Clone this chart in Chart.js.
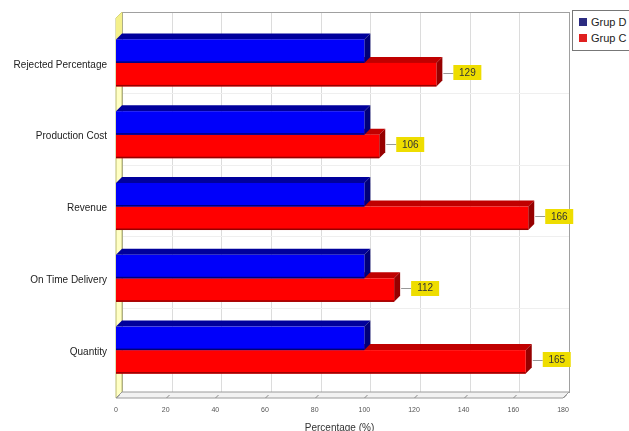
<!DOCTYPE html>
<html>
<head>
<meta charset="utf-8">
<script src="https://cdn.jsdelivr.net/npm/chart.js@4.4.1/dist/chart.umd.min.js"></script>
<style>
  html, body { margin: 0; padding: 0; background: #fff; }
  #wrap { position: relative; width: 629px; height: 431px; overflow: hidden; }
  #legend {
    position: absolute; left: 572px; top: 10px; width: 70px; height: 39px;
    border: 1px solid #777; background: #fff;
    font: 11px "Liberation Sans", Arial, sans-serif; color: #222;
  }
  #legend div { position: absolute; left: 6px; white-space: nowrap; }
  #legend span { display: inline-block; width: 8px; height: 8px; margin-right: 4px; }
</style>
</head>
<body>
<div id="wrap">
  <canvas id="chart" width="629" height="431"></canvas>
  <div id="legend"></div>
</div>
<script>
const categories = ["Rejected Percentage", "Production Cost", "Revenue", "On Time Delivery", "Quantity"];
const grupD = [100, 100, 100, 100, 100];
const grupC = [129, 106, 166, 112, 165];
const xTickValues = [0, 20, 40, 60, 80, 100, 120, 140, 160, 180];

const DEPTH = 6;
const seriesStyle = [
  { name: "Grup D", legend: "#2b2b80", front: "#0000fa", top: "#00009c", side: "#000078" },
  { name: "Grup C", legend: "#e02020", front: "#ff0000", top: "#c00000", side: "#960000" }
];

// legend
document.getElementById("legend").innerHTML = seriesStyle.map((s, i) =>
  `<div style="top:${5 + i * 16}px"><span style="background:${s.legend}"></span>${s.name}</div>`
).join("");

function poly(ctx, pts, fill, stroke) {
  ctx.beginPath();
  ctx.moveTo(pts[0][0], pts[0][1]);
  for (let i = 1; i < pts.length; i++) ctx.lineTo(pts[i][0], pts[i][1]);
  ctx.closePath();
  if (fill) { ctx.fillStyle = fill; ctx.fill(); }
  if (stroke) { ctx.strokeStyle = stroke; ctx.lineWidth = 1; ctx.stroke(); }
}

// fake 3d frame + bars
const bars3d = {
  id: "bars3d",
  beforeDatasetsDraw(chart) {
    const ctx = chart.ctx, xs = chart.scales.x, area = chart.chartArea, d = DEPTH;
    const L = xs.getPixelForValue(0), R = xs.getPixelForValue(180);
    const T = area.top - 15, B = area.bottom + 12;
    ctx.save();
    // back wall
    ctx.fillStyle = "#fff";
    ctx.fillRect(L + d, T, R - L, B - d - T);
    // grid on back wall
    ctx.strokeStyle = "#dcdcdc";
    ctx.lineWidth = 1;
    xTickValues.forEach(v => {
      const px = Math.round(xs.getPixelForValue(v) + d) + 0.5;
      ctx.beginPath(); ctx.moveTo(px, T); ctx.lineTo(px, B - d); ctx.stroke();
    });
    ctx.strokeStyle = "#efefef";
    const ys = chart.scales.y;
    for (let i = 1; i < categories.length; i++) {
      const py = Math.round((ys.getPixelForValue(i - 1) + ys.getPixelForValue(i)) / 2 - d) + 0.5;
      ctx.beginPath(); ctx.moveTo(L + d, py); ctx.lineTo(R + d, py); ctx.stroke();
    }
    ctx.strokeStyle = "#a0a0a0";
    ctx.strokeRect(Math.round(L + d) + 0.5, T + 0.5, R - L, B - d - T);
    // left wall
    poly(ctx, [[L, T + d], [L + d, T], [L + d, B - d], [L, B]], "#ffffc4", "#bcbc70");
    poly(ctx, [[L, T + d], [L + d, T], [L + d, T + 30], [L, T + 36]], "#f4f08a", null);
    // floor
    poly(ctx, [[L, B], [L + d, B - d], [R + d, B - d], [R, B]], "#f2f2f2", "#9a9a9a");
    ctx.strokeStyle = "#8a8a8a";
    xTickValues.forEach(v => {
      const px = Math.round(xs.getPixelForValue(v)) + 0.5;
      ctx.beginPath(); ctx.moveTo(px, B); ctx.lineTo(px + d * 0.5, B - d * 0.5); ctx.stroke();
    });
    ctx.restore();
  },
  beforeDatasetDraw() { return false; },
  afterDatasetsDraw(chart) {
    const ctx = chart.ctx, d = DEPTH;
    ctx.save();
    // lower series first, so the upper one hides its top face
    for (let di = chart.data.datasets.length - 1; di >= 0; di--) {
      const st = seriesStyle[di];
      chart.getDatasetMeta(di).data.forEach((el) => {
        const { x, y, base, height } = el.getProps(["x", "y", "base", "height"], true);
        const top = y - height / 2, bot = y + height / 2;
        poly(ctx, [[base, top], [base + d, top - d], [x + d, top - d], [x, top]], st.top, null);
        poly(ctx, [[x, top], [x + d, top - d], [x + d, bot - d], [x, bot]], st.side, null);
        ctx.fillStyle = st.front;
        ctx.fillRect(base, top, x - base, bot - top);
        ctx.fillStyle = st.side;
        ctx.fillRect(base, bot - 1.5, x - base, 1.5);
      });
    }
    // value labels for Grup C
    const meta = chart.getDatasetMeta(1);
    ctx.font = '10px "Liberation Sans", Arial, sans-serif';
    ctx.textAlign = "center";
    ctx.textBaseline = "middle";
    meta.data.forEach((el, i) => {
      const { x, y } = el.getProps(["x", "y"], true);
      const bx = x + d + 11, by = y - 2, w = 28, h = 15;
      ctx.strokeStyle = "#999";
      ctx.lineWidth = 1;
      ctx.beginPath(); ctx.moveTo(x + d + 1, Math.round(by) + 0.5); ctx.lineTo(bx, Math.round(by) + 0.5); ctx.stroke();
      ctx.fillStyle = "#eedd00";
      ctx.fillRect(bx, Math.round(by - h / 2), w, h);
      ctx.fillStyle = "#333";
      ctx.fillText(String(grupC[i]), bx + w / 2, by + 0.5);
    });
    ctx.restore();
  }
};

new Chart(document.getElementById("chart").getContext("2d"), {
  type: "bar",
  data: {
    labels: categories,
    datasets: [
      { label: seriesStyle[0].name, data: grupD, backgroundColor: seriesStyle[0].front, categoryPercentage: 0.655, barPercentage: 1.0 },
      { label: seriesStyle[1].name, data: grupC, backgroundColor: seriesStyle[1].front, categoryPercentage: 0.655, barPercentage: 1.0 }
    ]
  },
  options: {
    indexAxis: "y",
    responsive: false,
    animation: false,
    events: [],
    layout: { padding: { top: 27, right: 66, left: 0, bottom: 0 } },
    plugins: { legend: { display: false }, tooltip: { enabled: false } },
    scales: {
      x: {
        min: 0, max: 180,
        afterBuildTicks: (scale) => { scale.ticks = xTickValues.map(v => ({ value: v })); },
        afterFit: (scale) => { scale.height = 45; },
        grid: { display: false, drawTicks: false },
        border: { display: false },
        ticks: { padding: 20, color: "#555", font: { family: "Liberation Sans", size: 7 } },
        title: {
          display: true, text: "Percentage (%)", color: "#333",
          font: { family: "Liberation Sans", size: 10 }, padding: { top: 0, bottom: -3 }
        }
      },
      y: {
        afterFit: (scale) => { scale.width = 116; },
        grid: { display: false, drawTicks: false },
        border: { display: false },
        ticks: { padding: 9, labelOffset: 2, color: "#222", font: { family: "Liberation Sans", size: 10 } }
      }
    }
  },
  plugins: [bars3d]
});
</script>
</body>
</html>
